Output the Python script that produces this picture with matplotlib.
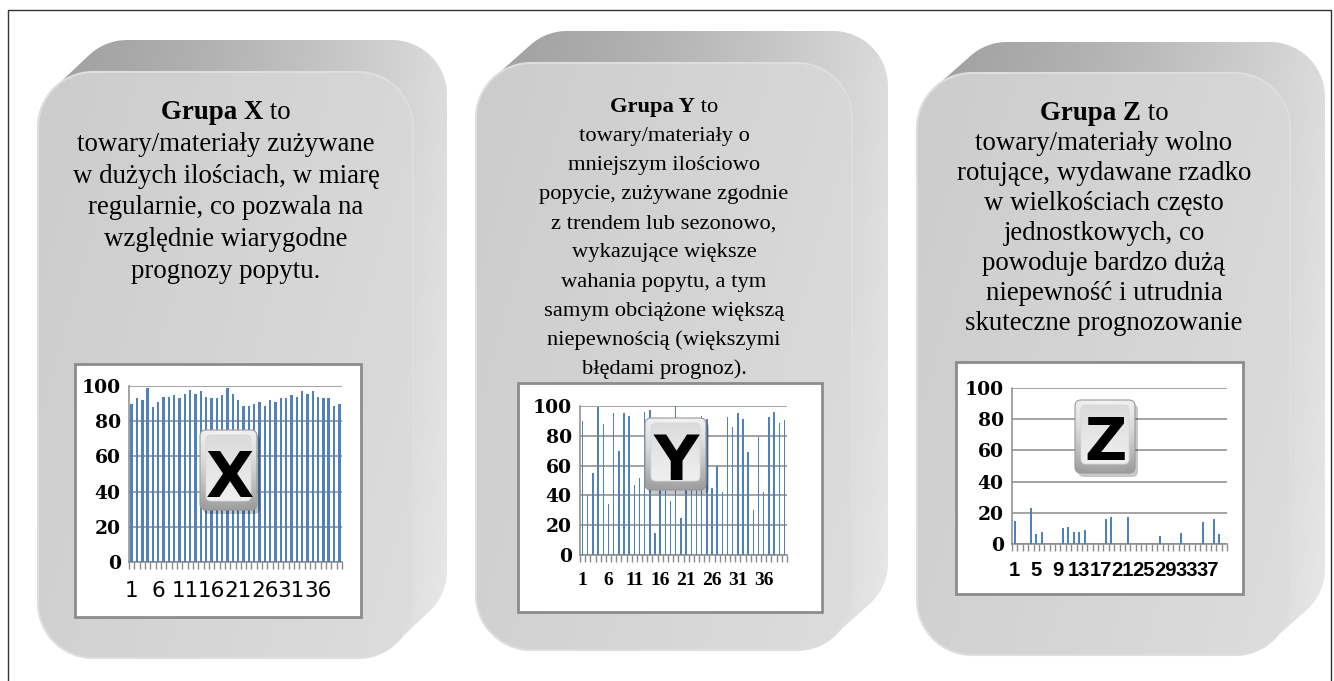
import numpy as np
import matplotlib
matplotlib.use("Agg")
import matplotlib.pyplot as plt
from matplotlib.patches import Polygon, FancyBboxPatch, Rectangle

# ---------------------------------------------------------------- data
periods = list(range(1, 41))

demand_x = [90, 93, 92, 99, 88, 91, 94, 94, 95, 93,
            95.5, 97.5, 95.5, 97, 94, 93, 93, 95, 99, 95.5,
            92, 88.7, 88.7, 90, 91, 88.7, 92, 91, 93, 93,
            95, 94, 97, 95.5, 97, 94, 93, 93, 88.7, 90]

demand_y = [90, 40, 55, 99.5, 88, 34, 95, 70, 95, 93,
            47, 52, 96, 97, 15, 78, 62, 36, 100, 24.6,
            85, 50, 72, 93, 91, 45, 60, 42.5, 92.6, 86,
            95, 91, 69, 30, 79, 42, 92.6, 96, 88.6, 90.4]

demand_z = [15, 0, 0, 23, 6.4, 8, 0, 0, 0, 10.5,
            11, 8, 8, 8.8, 0, 0, 0, 16, 17.3, 0,
            0, 17.3, 0, 0, 0, 0, 0, 5, 0, 0,
            0, 7.3, 0, 0, 0, 14.3, 0, 16, 6.4, 0]

y_ticks = [0, 20, 40, 60, 80, 100]
x_ticks_5 = [1, 6, 11, 16, 21, 26, 31, 36]
x_ticks_4 = [1, 5, 9, 13, 17, 21, 25, 29, 33, 37]

text_x = [("Grupa X", " to"), "towary/materiały zużywane",
          "w dużych ilościach, w miarę", "regularnie, co pozwala na",
          "względnie wiarygodne", "prognozy popytu."]
text_y = [("Grupa Y", " to"), "towary/materiały o", "mniejszym ilościowo",
          "popycie, zużywane zgodnie", "z trendem lub sezonowo,",
          "wykazujące większe", "wahania popytu, a tym",
          "samym obciążone większą", "niepewnością (większymi",
          "błędami prognoz)."]
text_z = [("Grupa Z", " to"), "towary/materiały wolno",
          "rotujące, wydawane rzadko", "w wielkościach często",
          "jednostkowych, co", "powoduje bardzo dużą",
          "niepewność i utrudnia", "skuteczne prognozowanie"]

# ---------------------------------------------------------------- canvas
W, H = 1334, 681
fig = plt.figure(figsize=(W / 100, H / 100), dpi=100)
fig.patch.set_facecolor("white")
bg = fig.add_axes([0, 0, 1, 1])
bg.set_xlim(0, W)
bg.set_ylim(H, 0)
bg.axis("off")

BAR = "#4f81bd"
GRID = "#8a8a8a"


def rounded_pts(x0, y0, x1, y1, r, n=24):
    pts = []
    corners = [(x1 - r, y0 + r, -90, 0), (x1 - r, y1 - r, 0, 90),
               (x0 + r, y1 - r, 90, 180), (x0 + r, y0 + r, 180, 270)]
    for cx, cy, a0, a1 in corners:
        for a in np.linspace(np.radians(a0), np.radians(a1), n):
            pts.append((cx + r * np.cos(a), cy + r * np.sin(a)))
    return np.array(pts)


def convex_hull(points):
    pts = sorted(map(tuple, points))

    def cross(o, a, b):
        return (a[0] - o[0]) * (b[1] - o[1]) - (a[1] - o[1]) * (b[0] - o[0])

    lower, upper = [], []
    for p in pts:
        while len(lower) >= 2 and cross(lower[-2], lower[-1], p) <= 0:
            lower.pop()
        lower.append(p)
    for p in reversed(pts):
        while len(upper) >= 2 and cross(upper[-2], upper[-1], p) <= 0:
            upper.pop()
        upper.append(p)
    return np.array(lower[:-1] + upper[:-1])


def gradient_fill(ax, patch, x0, y0, x1, y1, func, zorder):
    fx, fy = np.meshgrid(np.linspace(0, 1, 240), np.linspace(0, 1, 240))
    v = np.clip(func(fx, fy), 0, 1)
    img = ax.imshow(np.dstack([v, v, v]), extent=(x0, x1, y1, y0),
                    origin="upper", zorder=zorder, interpolation="bilinear",
                    aspect="auto")
    img.set_clip_path(patch)


def draw_block(x0, y0, x1, y1, r, dx, dy):
    front = rounded_pts(x0, y0, x1, y1, r)
    back = front + np.array([dx, dy])
    hull = convex_hull(np.vstack([front, back]))
    hp = Polygon(hull, closed=True, facecolor="none", edgecolor="none", zorder=1)
    bg.add_patch(hp)
    hx0, hy0 = hull.min(axis=0)
    hx1, hy1 = hull.max(axis=0)
    gradient_fill(bg, hp, hx0, hy0, hx1, hy1,
                  lambda fx, fy: 0.63 + 0.23 * fx ** 1.4 + 0.05 * fy, 1)
    fp = Polygon(front, closed=True, facecolor="none", edgecolor="#dedede",
                 lw=1.5, zorder=3)
    bg.add_patch(fp)
    gradient_fill(bg, fp, x0, y0, x1, y1,
                  lambda fx, fy: 0.80 + 0.045 * fx + 0.02 * fy, 2)


def centered_line(cx, y, parts, size):
    rend = fig.canvas.get_renderer()
    objs = []
    for s, wt in parts:
        objs.append(bg.text(0, y, s, fontsize=size, fontweight=wt,
                            family="Liberation Serif", va="baseline",
                            ha="left", color="black", zorder=5))
    widths = [t.get_window_extent(rend).width for t in objs]
    x = cx - sum(widths) / 2
    for t, w in zip(objs, widths):
        t.set_x(x)
        x += w


def block_text(cx, base, step, lines, size):
    for i, line in enumerate(lines):
        y = base + i * step
        if isinstance(line, tuple):
            centered_line(cx, y, [(line[0], "bold"), (line[1], "normal")], size)
        else:
            centered_line(cx, y, [(line, "normal")], size)


# outer frame
bg.plot([8, 8, 1331, 1331], [H + 2, 10, 10, H + 2], color="#333333", lw=1.0,
        zorder=0.5)

# three blocks
draw_block(38, 72, 413, 658, 55, 34, -32)
draw_block(476, 63, 852, 650, 55, 36, -32)
draw_block(917, 73, 1290, 655, 55, 35, -31)

block_text(226, 119, 31.8, text_x, 19.4)
block_text(664, 112, 29.1, text_y, 16.2)
block_text(1104, 120, 30.0, text_z, 19.4)

# white chart panels
for (px0, py0, px1, py1) in [(75, 364, 361, 617), (518, 383, 822, 612),
                             (956, 362, 1243, 594)]:
    bg.add_patch(Rectangle((px0, py0), px1 - px0, py1 - py0,
                           facecolor="white", edgecolor="#8c8c8c", lw=2,
                           zorder=6))


# ---------------------------------------------------------------- bar charts
def chart(left, right, top, bottom, values, width, ticks, xfont, xpad):
    ax = fig.add_axes([left / W, 1 - bottom / H, (right - left) / W,
                       (bottom - top) / H])
    ax.patch.set_alpha(0)
    ax.bar(periods, values, width=width, color=BAR, zorder=3)
    ax.set_xlim(0.5, len(periods) + 0.5)
    ax.set_ylim(0, 100)
    ax.set_yticks(y_ticks)
    ax.set_yticklabels([str(v) for v in y_ticks], family="DejaVu Serif",
                       fontweight="bold", fontsize=13.5)
    ax.yaxis.grid(True, color=GRID, lw=1.1, zorder=1)
    ax.set_axisbelow(True)
    ax.tick_params(axis="y", length=0, pad=6)
    ax.set_xticks(ticks)
    ax.set_xticklabels([str(t) for t in ticks], **xfont)
    ax.set_xticks(np.arange(0.5, len(periods) + 1), minor=True)
    ax.tick_params(axis="x", which="major", length=0, pad=xpad)
    ax.tick_params(axis="x", which="minor", length=5, color=GRID, width=1)
    for s in ("top", "right"):
        ax.spines[s].set_visible(False)
    for s in ("left", "bottom"):
        ax.spines[s].set_color(GRID)
        ax.spines[s].set_linewidth(1.1)
    return ax


chart(129, 342, 386, 562, demand_x, 0.45, x_ticks_5,
      dict(family="DejaVu Sans", fontsize=15.5), 14)
chart(580, 787, 406, 555, demand_y, 0.28, x_ticks_5,
      dict(family="Liberation Serif", fontweight="bold", fontsize=14), 12)
chart(1012, 1227, 388, 544, demand_z, 0.35, x_ticks_4,
      dict(family="Liberation Sans", fontweight="bold", fontsize=14.5), 12)

# ---------------------------------------------------------------- key icons
ov = fig.add_axes([0, 0, 1, 1])
ov.set_xlim(0, W)
ov.set_ylim(H, 0)
ov.axis("off")
ov.patch.set_alpha(0)


def key_icon(x0, y0, x1, y1, letter, base, size):
    w, h = x1 - x0, y1 - y0
    ov.add_patch(FancyBboxPatch((x0 + 3, y0 + 4), w, h,
                                boxstyle="round,pad=0,rounding_size=6",
                                facecolor=(0, 0, 0, 0.22), edgecolor="none",
                                zorder=2))
    body = FancyBboxPatch((x0, y0), w, h,
                          boxstyle="round,pad=0,rounding_size=6",
                          facecolor="none", edgecolor="#9a9a9a", lw=0.8,
                          zorder=4)
    ov.add_patch(body)
    gradient_fill(ov, body, x0, y0, x1, y1,
                  lambda fx, fy: 0.95 - 0.33 * fy ** 1.5 - 0.10 * np.abs(fx - 0.5) ** 2, 3)
    face = FancyBboxPatch((x0 + 6, y0 + 5), w - 12, h - 14,
                          boxstyle="round,pad=0,rounding_size=5",
                          facecolor="none", edgecolor="#d8d8d8", lw=0.6,
                          zorder=6)
    ov.add_patch(face)
    gradient_fill(ov, face, x0 + 6, y0 + 5, x1 - 6, y1 - 9,
                  lambda fx, fy: 0.86 + 0.08 * fy, 5)
    ov.text((x0 + x1) / 2 + 1, base, letter, fontsize=size,
            family="DejaVu Sans", fontweight="bold", ha="center",
            va="baseline", color="black", zorder=7)


key_icon(200, 430, 257, 510, "X", 497, 45)
key_icon(645, 418, 706, 490, "Y", 480, 45)
key_icon(1075, 400, 1135, 473, "Z", 460, 42)

for a in (bg, ov):
    a.set_xlim(0, W)
    a.set_ylim(H, 0)

fig.savefig("out.png", dpi=100, facecolor="white")
